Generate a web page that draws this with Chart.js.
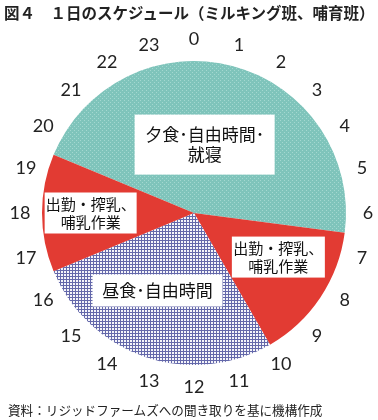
<!DOCTYPE html>
<html>
<head>
<meta charset="utf-8">
<script src="https://cdn.jsdelivr.net/npm/chart.js@4/dist/chart.umd.min.js"></script>
<style>
  body { margin: 0; background: #fff; }
  #wrap { position: relative; width: 378px; height: 420px; overflow: hidden; }
  #myChart { position: absolute; left: 0; top: 0; }
  .title { position: absolute; left: 4px; top: 1px; font: bold 15.5px "Noto Sans CJK JP", sans-serif; color: #222; white-space: nowrap; }
  .note { position: absolute; left: 8px; top: 400px; font: 12.6px "Noto Sans CJK JP", sans-serif; color: #222; white-space: nowrap; }
</style>
</head>
<body>
<div id="wrap">
  <canvas id="myChart" width="378" height="420"></canvas>
  <div class="title">図４　１日のスケジュール（ミルキング班、哺育班）</div>
  <div class="note">資料：リジッドファームズへの聞き取りを基に機構作成</div>
</div>
<script>
// hours per activity, clockwise starting at 19:30
const activities = ["夕食･自由時間･就寝", "出勤・搾乳、哺乳作業", "昼食･自由時間", "出勤・搾乳、哺乳作業"]
const hours = [11, 3.5, 6.5, 3]
const startHour = 19.5
const sliceLabels = [["夕食･自由時間･", "就寝"], ["出勤・搾乳、", "哺乳作業"], ["昼食･自由時間"], ["出勤・搾乳、", "哺乳作業"]]
const clockLabels = ["0","1","2","3","4","5","6","7","8","9","10","11","12","13","14","15","16","17","18","19","20","21","22","23"]

function makePattern(size, bg, fg, dots) {
    const c = document.createElement("canvas")
    c.width = size; c.height = size
    const g = c.getContext("2d")
    g.fillStyle = bg
    g.fillRect(0, 0, size, size)
    g.fillStyle = fg
    dots.forEach(d => g.fillRect(d[0], d[1], d[2], d[3]))
    return g.createPattern(c, "repeat")
}

const ctx = document.getElementById("myChart").getContext("2d")
const teal = makePattern(4, "#7fc4bb", "#a3d8d0", [[0,0,1,1],[2,2,1,1]])
const hatch = makePattern(3, "#f4f4fa", "#6468aa", [[0,0,3,1],[0,0,1,3]])
const red = "#e23b33"

// box centre offsets (fraction of radius) and font size for each slice label
const boxes = [
    {dx: 0.07, dy: -0.45, w: 140, h: 60, size: 17},
    {dx: 0.555, dy: 0.29, w: 93, h: 41, size: 15},
    {dx: -0.24, dy: 0.51, w: 130, h: 32, size: 17},
    {dx: -0.68, dy: 0.0, w: 92, h: 41, size: 15}
]

const clockPlugin = {
    id: "clock",
    afterDatasetsDraw(chart) {
        const arc = chart.getDatasetMeta(0).data[0]
        const cx = arc.x, cy = arc.y, r = arc.outerRadius
        const c = chart.ctx
        c.save()
        c.textAlign = "center"
        c.textBaseline = "middle"
        c.fillStyle = "#222"
        c.font = "18px Lato, sans-serif"
        clockLabels.forEach((t, i) => {
            const a = (i * 15 - 90) * Math.PI / 180
            c.fillText(t, cx + Math.cos(a) * (r + 22), cy + Math.sin(a) * (r + 22))
        })
        sliceLabels.forEach((lines, i) => {
            const b = boxes[i]
            const bx = cx + b.dx * r, by = cy + b.dy * r
            c.fillStyle = "#fff"
            c.fillRect(bx - b.w / 2, by - b.h / 2, b.w, b.h)
            c.fillStyle = "#111"
            c.font = b.size + "px 'Noto Sans CJK JP', sans-serif"
            const lh = b.size * 1.2
            lines.forEach((t, j) => {
                c.fillText(t, bx, by + (j - (lines.length - 1) / 2) * lh)
            })
        })
        c.restore()
    }
}

new Chart(ctx, {
    type: "pie",
    data: {
        labels: activities,
        datasets: [{
            data: hours,
            backgroundColor: [teal, red, hatch, red],
            borderWidth: 0
        }]
    },
    options: {
        responsive: false,
        animation: false,
        devicePixelRatio: 1,
        rotation: startHour * 15,
        layout: {padding: {left: 42, right: 32, top: 61, bottom: 55}},
        plugins: {
            legend: {display: false},
            tooltip: {enabled: false}
        }
    },
    plugins: [clockPlugin]
});
</script>
</body>
</html>
